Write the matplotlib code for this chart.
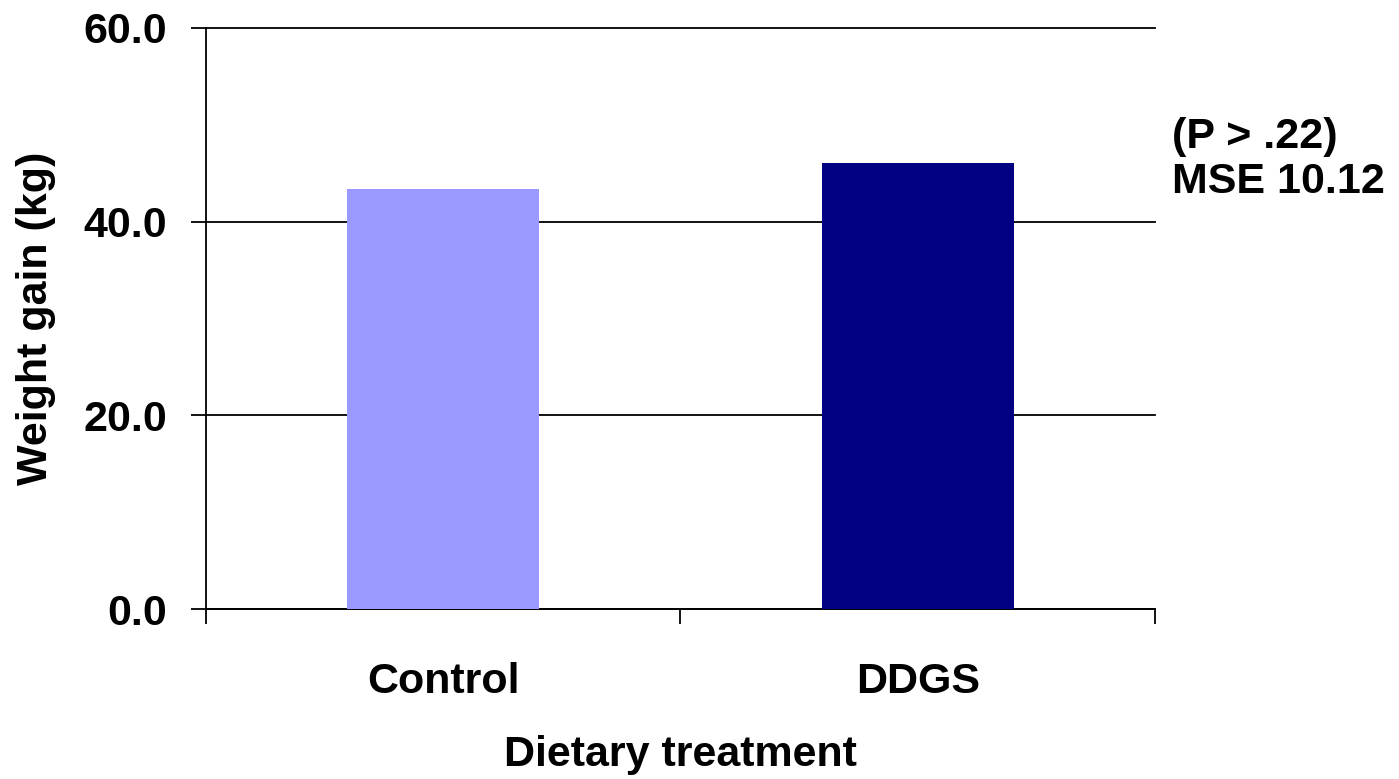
#%% import packages
import matplotlib.pyplot as plt
import numpy as np

#%% data
categories_ = ['Control', 'DDGS']
weight_gain_ = [43.4, 46.1]
bar_colors_ = ['#9999FF', '#000080']
y_ticks_ = [0, 20, 40, 60]
y_tick_labels_ = ['0.0', '20.0', '40.0', '60.0']
note_lines_ = ['(P > .22)', 'MSE 10.12']

#%% style
plt.rcParams['font.family'] = ['Liberation Sans', 'DejaVu Sans']
plt.rcParams['font.weight'] = 'bold'
fs_ = 31

fig = plt.figure(figsize=(13.99, 7.79), dpi=100)
ax = fig.add_axes([0.1472, 0.2182, 0.6784, 0.7459])

x_ = np.arange(len(categories_))
ax.bar(x_, weight_gain_, width=0.405, color=bar_colors_, zorder=3)

ax.set_xlim(-0.5, len(categories_) - 0.5)
ax.set_ylim(0, 60)

# y axis
ax.set_yticks(y_ticks_)
ax.set_yticklabels(y_tick_labels_, fontsize=fs_, fontweight='bold')
ax.tick_params(axis='y', length=11, width=1.3, pad=17, direction='out')
ax.yaxis.grid(True, color='black', lw=1.3, zorder=0)
for gl_ in ax.get_ygridlines():
    gl_.set_clip_on(False)

# x axis: labels at centres, tick marks at boundaries
ax.set_xticks(x_)
ax.set_xticklabels(categories_, fontsize=fs_, fontweight='bold')
ax.tick_params(axis='x', which='major', length=0, pad=38)
ax.set_xticks(np.arange(-0.5, len(categories_)), minor=True)
ax.tick_params(axis='x', which='minor', length=11, width=1.3, direction='out')

for s_ in ['top', 'right']:
    ax.spines[s_].set_visible(False)
for s_ in ['left', 'bottom']:
    ax.spines[s_].set_linewidth(1.3)

ax.set_ylabel('Weight gain (kg)', fontsize=fs_, fontweight='bold', labelpad=20)
ax.set_xlabel('Dietary treatment', fontsize=fs_, fontweight='bold', labelpad=24)

fig.text(1172 / 1399, 1 - 117 / 779, '\n'.join(note_lines_), fontsize=fs_,
         fontweight='bold', ha='left', va='top', linespacing=1.15)

fig.savefig('out.png', dpi=100)
